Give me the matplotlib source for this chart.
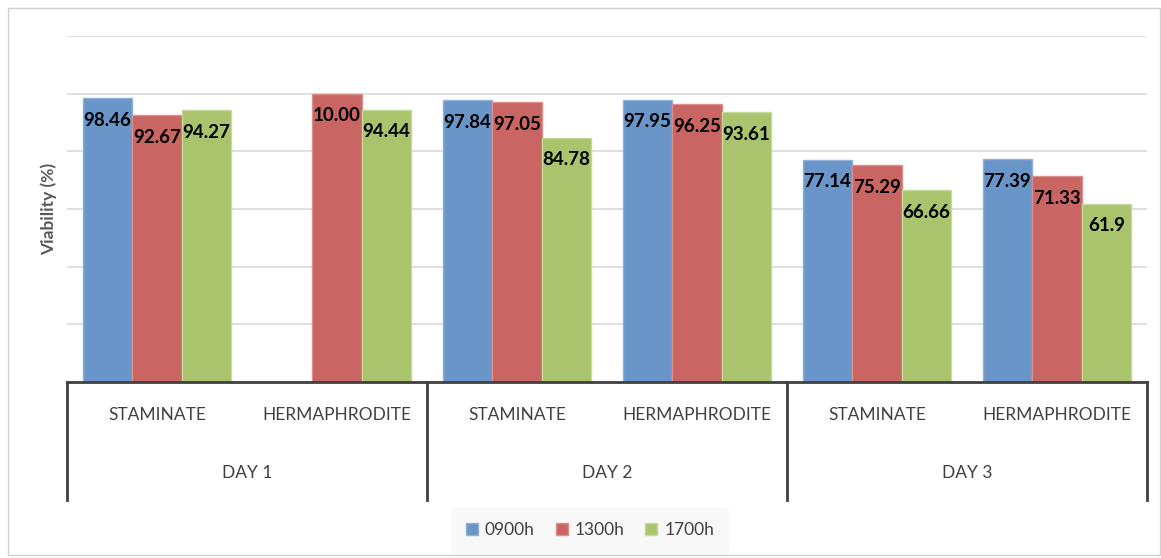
import numpy as np
import matplotlib
matplotlib.use("Agg")
from matplotlib import pyplot as plt
from matplotlib import patches, transforms

plt.rcParams['font.family'] = ['Lato', 'DejaVu Sans']

# pollen viability by day, flower type and sampling time
days = ["DAY 1", "DAY 2", "DAY 3"]
flower_types = ["STAMINATE", "HERMAPHRODITE"]
series_names = ["0900h", "1300h", "1700h"]

v_0900 = [98.46, np.nan, 97.84, 97.95, 77.14, 77.39]
v_1300 = [92.67, 100.00, 97.05, 96.25, 75.29, 71.33]
v_1700 = [94.27, 94.44, 84.78, 93.61, 66.66, 61.9]

lbl_0900 = ["98.46", "", "97.84", "97.95", "77.14", "77.39"]
lbl_1300 = ["92.67", "10.00", "97.05", "96.25", "75.29", "71.33"]
lbl_1700 = ["94.27", "94.44", "84.78", "93.61", "66.66", "61.9"]

colors = ["#6a95c9", "#c96663", "#a9c46d"]
edges = ["#8fb1da", "#dc8e8b", "#c3d99a"]

fig = plt.figure(figsize=(11.61, 5.58), dpi=100)
ax = fig.add_axes([67/1161, 1 - 382/558, (1147 - 67)/1161, 346/558])

# outer chart frame
fig.patches.append(patches.Rectangle((8/1161, 3/558), 1152/1161, 547/558,
                                     transform=fig.transFigure, fill=False,
                                     edgecolor="#d0d0d0", linewidth=1))

x = np.arange(len(v_0900))
w = 0.275
for i, (vals, lbls, name) in enumerate(zip([v_0900, v_1300, v_1700],
                                           [lbl_0900, lbl_1300, lbl_1700],
                                           series_names)):
    pos = x + (i - 1) * w
    ax.bar(pos, vals, width=w, color=colors[i], edgecolor=edges[i],
           linewidth=1, label=name, zorder=2)
    for px, v, t in zip(pos, vals, lbls):
        if np.isnan(v):
            continue
        ax.annotate(t, (px, v), xytext=(0, -16), textcoords="offset points",
                    ha="center", va="center", fontsize=13.5, fontweight="bold",
                    color="black", zorder=3)

ax.set_xlim(-0.5, 5.5)
ax.set_ylim(0, 120)
ax.set_yticks(np.arange(20, 121, 20))
ax.yaxis.grid(True, color="#d9d9d9", linewidth=1.2, zorder=0)
ax.tick_params(axis="y", length=0, labelleft=False)
ax.tick_params(axis="x", length=0, labelbottom=False)
for s in ["top", "right", "left"]:
    ax.spines[s].set_visible(False)
ax.spines["bottom"].set_color("#404040")
ax.spines["bottom"].set_linewidth(2)

ax.set_ylabel("Viability (%)", fontsize=12.5, fontweight="bold", color="#595959",
              labelpad=7)

# two-level category axis
trans = transforms.blended_transform_factory(ax.transData, ax.transAxes)
for b in [-0.5, 1.5, 3.5, 5.5]:
    ax.plot([b, b], [0, -0.341], transform=trans, color="#404040",
            linewidth=2, clip_on=False)
for i, xc in enumerate(x):
    ax.text(xc, -0.096, flower_types[i % 2], transform=trans, ha="center",
            va="center", fontsize=12.5, color="#404040")
for d, day in enumerate(days):
    ax.text(2 * d + 0.5, -0.263, day, transform=trans, ha="center",
            va="center", fontsize=12.5, color="#404040")

leg = fig.legend(loc="center", bbox_to_anchor=(590/1161, 1 - 530/558), ncol=3,
                 frameon=True, fontsize=12.5, handlelength=0.7, handleheight=0.7,
                 handletextpad=0.4, columnspacing=1.2, borderpad=0.8)
leg.get_frame().set_facecolor("#f7f7f7")
leg.get_frame().set_edgecolor("#f7f7f7")
for t in leg.get_texts():
    t.set_color("#404040")

fig.savefig("out.png", dpi=100)
